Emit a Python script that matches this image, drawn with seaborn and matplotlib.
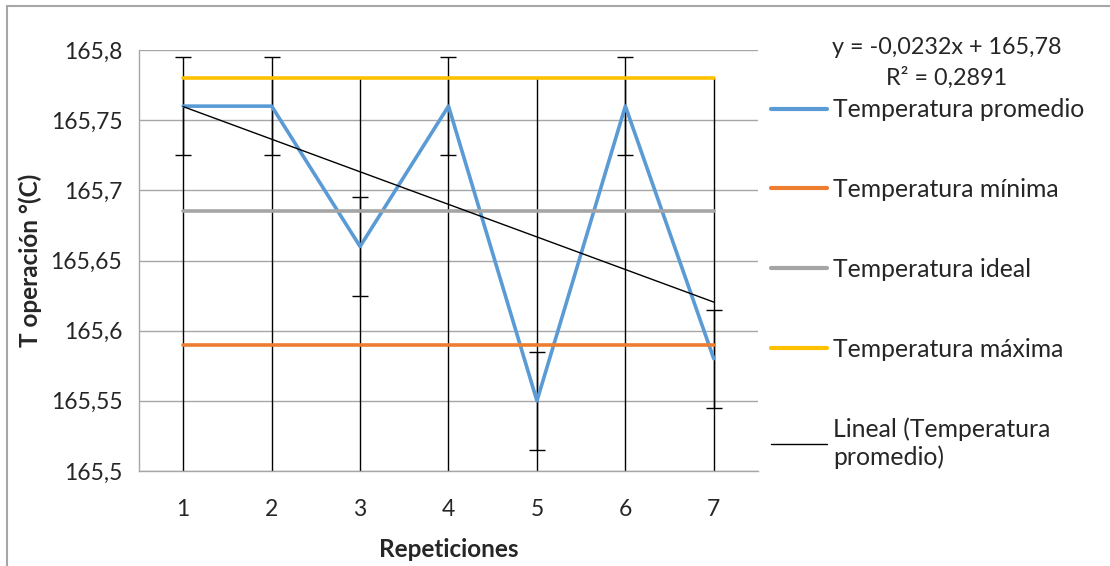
import numpy as np
import pandas as pd
import matplotlib
matplotlib.use("Agg")
import matplotlib.pyplot as plt
import seaborn as sns
from matplotlib.ticker import MultipleLocator, FuncFormatter
from matplotlib.lines import Line2D

# datos
repeticiones = [1, 2, 3, 4, 5, 6, 7]
t_promedio = [165.76, 165.76, 165.66, 165.76, 165.55, 165.76, 165.58]
t_minima = [165.59] * 7
t_ideal = [165.685] * 7
t_maxima = [165.78] * 7
error = 0.035

colores = {
    "Temperatura promedio": "#5B9BD5",
    "Temperatura mínima": "#ED7D31",
    "Temperatura ideal": "#A5A5A5",
    "Temperatura máxima": "#FFC000",
}

sns.set_style("white")
plt.rcParams['font.family'] = ['Lato', 'DejaVu Sans']

df = pd.DataFrame({
    "Repeticiones": repeticiones * 4,
    "T": t_promedio + t_minima + t_ideal + t_maxima,
    "serie": (["Temperatura promedio"] * 7 + ["Temperatura mínima"] * 7
              + ["Temperatura ideal"] * 7 + ["Temperatura máxima"] * 7),
})

fig = plt.figure(figsize=(11.1, 5.66), dpi=100)
ax = fig.add_axes([139 / 1110, 1 - 471 / 566, (758 - 139) / 1110, (471 - 50) / 566])

ax.set_xlim(0.5, 7.5)
ax.set_ylim(165.5, 165.8)

# lineas de unión (drop lines) desde el valor mas alto hasta el eje
tope = np.max([t_promedio, t_minima, t_ideal, t_maxima], axis=0)
ax.vlines(repeticiones, 165.5, tope, color="black", lw=1, zorder=2)

ax.errorbar(repeticiones, t_promedio, yerr=error, fmt="none", ecolor="black",
            elinewidth=1, capsize=6, capthick=1, zorder=2)

sns.lineplot(data=df, x="Repeticiones", y="T", hue="serie", palette=colores,
             lw=2.6, legend=False, ax=ax, zorder=3)

# tendencia lineal
b, a = np.polyfit(repeticiones, t_promedio, 1)
ajuste = a + b * np.array(repeticiones)
ss_res = np.sum((np.array(t_promedio) - ajuste) ** 2)
ss_tot = np.sum((np.array(t_promedio) - np.mean(t_promedio)) ** 2)
r2 = 1 - ss_res / ss_tot
ax.plot(repeticiones, ajuste, color="black", lw=1, zorder=4)

ax.yaxis.set_major_locator(MultipleLocator(0.05))
ax.yaxis.set_major_formatter(FuncFormatter(lambda v, p: f"{v:.3f}".rstrip("0").rstrip(".").replace(".", ",")))
ax.set_xticks(repeticiones)
ax.grid(axis="y", color="#a6a6a6", lw=1)
ax.set_axisbelow(True)
for s in ["top", "right"]:
    ax.spines[s].set_visible(False)
for s in ["left", "bottom"]:
    ax.spines[s].set_color("#a6a6a6")
    ax.spines[s].set_linewidth(1)
ax.tick_params(axis="y", length=8, color="#a6a6a6", width=1, labelsize=16.5, pad=4)
ax.tick_params(axis="x", length=0, labelsize=16.5, pad=20)

ax.set_xlabel("Repeticiones", fontsize=17.5, fontweight="bold", labelpad=13)
ax.set_ylabel("T operación °(C)", fontsize=17.5, fontweight="bold", labelpad=6)

handles = [Line2D([], [], color=c, lw=3) for c in colores.values()]
handles.append(Line2D([], [], color="black", lw=1))
labels = list(colores.keys()) + ["Lineal (Temperatura\npromedio)"]
fig.legend(handles, labels, loc="upper left", bbox_to_anchor=(749 / 1110, 1 - 76 / 566),
           frameon=False, fontsize=17.8, handlelength=2.25, handletextpad=0.25,
           labelspacing=2.3)

fig.text(947 / 1110, 1 - 47 / 566,
         f"y = {b:.4f}x + {a:.2f}".replace(".", ","), ha="center", va="center", fontsize=16.8)
fig.text(947 / 1110, 1 - 78 / 566,
         f"R² = {r2:.4f}".replace(".", ","), ha="center", va="center", fontsize=16.8)

# borde del grafico
fig.add_artist(Line2D([7 / 1110, 1], [1 - 6 / 566, 1 - 6 / 566], color="#a6a6a6", lw=1.5))
fig.add_artist(Line2D([7 / 1110, 7 / 1110], [0, 1 - 6 / 566], color="#a6a6a6", lw=1.5))

fig.savefig("out.png", dpi=100)
